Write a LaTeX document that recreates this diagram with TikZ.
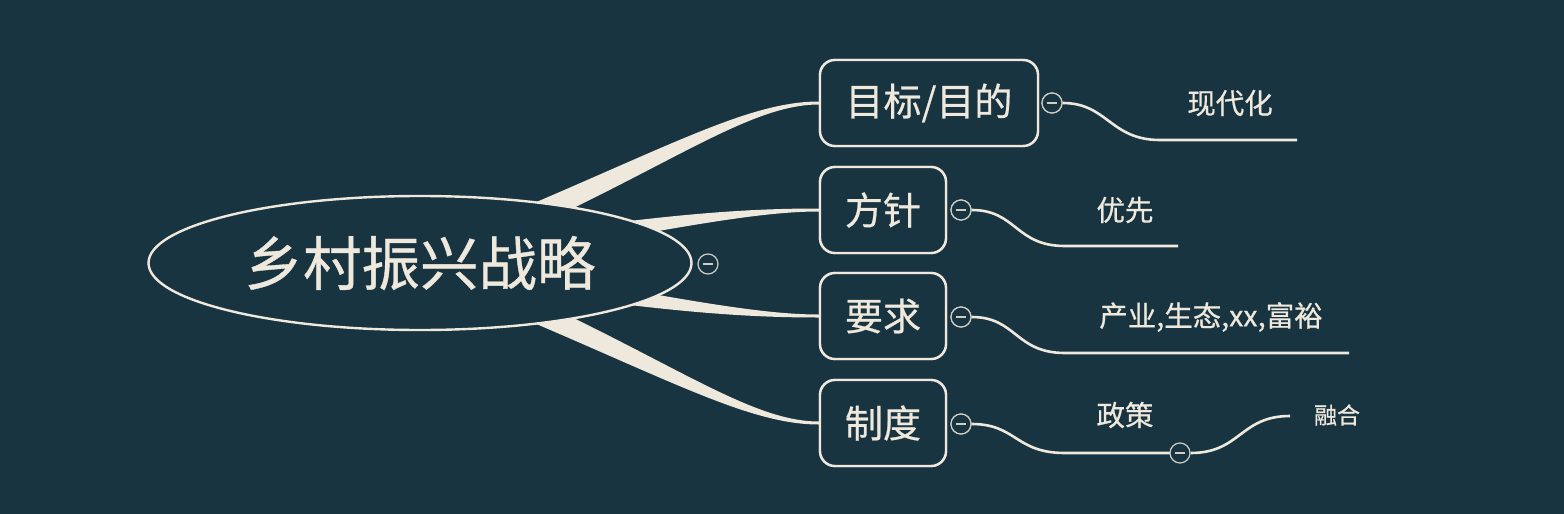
\documentclass[tikz,border=0pt]{standalone}
\usepackage{fontspec}
\newfontfamily\cjk[FakeBold=0.6]{Noto Sans CJK SC}
\usetikzlibrary{shapes.geometric,calc}
\definecolor{bg}{RGB}{25,52,65}
\definecolor{cream}{RGB}{238,233,220}
\begin{document}
\begin{tikzpicture}[x=1pt,y=-1pt,
  rootnode/.style={ellipse,draw=cream,line width=2.4pt,fill=bg,inner sep=0pt,
    minimum width=543pt,minimum height=134pt,text=cream,font=\cjk\fontsize{58.5}{60}\selectfont},
  topic/.style={rectangle,rounded corners=15pt,draw=cream,line width=2.4pt,fill=bg,
    minimum height=86pt,inner sep=0pt,text=cream,font=\cjk\fontsize{38}{40}\selectfont},
  subtext/.style={text=cream,inner sep=0pt,font=\cjk\fontsize{28.5}{30}\selectfont},
  toggle/.style={circle,draw=cream!85!bg,line width=1.2pt,fill=bg,minimum size=20pt,inner sep=0pt,
    path picture={\draw[cream!85!bg,line width=1.1pt]
      ([xshift=-5pt]path picture bounding box.center) -- ([xshift=5pt]path picture bounding box.center);}},
  subline/.style={draw=cream,line width=2.6pt},
  branch/.style={fill=cream}
]
\fill[bg] (0,0) rectangle (1564,514);
\useasboundingbox (0,0) rectangle (1564,514);

% nodes (positions)
\coordinate (rc) at (420,263);
\node[topic,minimum width=218pt] (b1) at (929,103) {目标/目的};
\node[topic,minimum width=126pt] (b2) at (883,210) {方针};
\node[topic,minimum width=126pt] (b3) at (883,316) {要求};
\node[topic,minimum width=126pt] (b4) at (883,423) {制度};

% tapered main branches (drawn under the root ellipse)
\fill[branch] ($(rc)+(0,-13)$) .. controls ($(rc)+(225,-102)$) and ($(b1.west)+(-80,-1.5)$) .. ($(b1.west)+(0,-1.5)$)
  -- ($(b1.west)+(0,1.5)$) .. controls ($(b1.west)+(-80,1.5)$) and ($(rc)+(225,-76)$) .. ($(rc)+(0,13)$) -- cycle;
\fill[branch] ($(rc)+(0,-11)$) .. controls ($(rc)+(230,-50)$) and ($(b2.west)+(-70,-1.5)$) .. ($(b2.west)+(0,-1.5)$)
  -- ($(b2.west)+(0,1.5)$) .. controls ($(b2.west)+(-70,1.5)$) and ($(rc)+(230,-30)$) .. ($(rc)+(0,11)$) -- cycle;
\fill[branch] ($(rc)+(0,-11)$) .. controls ($(rc)+(230,30)$) and ($(b3.west)+(-70,-1.5)$) .. ($(b3.west)+(0,-1.5)$)
  -- ($(b3.west)+(0,1.5)$) .. controls ($(b3.west)+(-70,1.5)$) and ($(rc)+(230,50)$) .. ($(rc)+(0,11)$) -- cycle;
\fill[branch] ($(rc)+(0,-13)$) .. controls ($(rc)+(225,76)$) and ($(b4.west)+(-80,-1.5)$) .. ($(b4.west)+(0,-1.5)$)
  -- ($(b4.west)+(0,1.5)$) .. controls ($(b4.west)+(-80,1.5)$) and ($(rc)+(225,102)$) .. ($(rc)+(0,13)$) -- cycle;

\node[rootnode] (root) at (rc) {乡村振兴战略};
\node[toggle] (c0) at (708,264) {};

% redraw boxes above branch ends
\node[topic,minimum width=218pt] at (b1) {目标/目的};
\node[topic,minimum width=126pt] at (b2) {方针};
\node[topic,minimum width=126pt] at (b3) {要求};
\node[topic,minimum width=126pt] at (b4) {制度};

% toggles
\node[toggle] (c1) at (1052,103) {};
\node[toggle] (c2) at (961,210) {};
\node[toggle] (c3) at (961,317) {};
\node[toggle] (c4) at (961,424) {};

% sub topics
\node[subtext] (t1) at (1230,103) {现代化};
\node[subtext] (t2) at (1125,210) {优先};
\node[subtext] (t3) at (1211,317) {产业,生态,xx,富裕};
\node[subtext] (t4) at (1125,415) {政策};
\node[subtext,font=\cjk\fontsize{23}{24}\selectfont] (t5) at (1337,415) {融合};

\coordinate (u1s) at (1160,140); \coordinate (u1e) at (1297,140);
\coordinate (u2s) at (1065,246); \coordinate (u2e) at (1178,246);
\coordinate (u3s) at (1065,353); \coordinate (u3e) at (1349,353);
\coordinate (u4s) at (1065,453);
\coordinate (u5e) at (1290,416);

\draw[subline] (c1.east) .. controls ($(c1.east)+(45,0)$) and ($(u1s)+(-50,0)$) .. (u1s) -- (u1e);
\draw[subline] (c2.east) .. controls ($(c2.east)+(45,0)$) and ($(u2s)+(-50,0)$) .. (u2s) -- (u2e);
\draw[subline] (c3.east) .. controls ($(c3.east)+(45,0)$) and ($(u3s)+(-50,0)$) .. (u3s) -- (u3e);
\draw[subline] (c4.east) .. controls ($(c4.east)+(45,0)$) and ($(u4s)+(-50,0)$) .. (u4s) -- (1170,453);
\node[toggle] (c5) at (1180,453) {};
\draw[subline] (c5.east) .. controls ($(c5.east)+(50,0)$) and ($(u5e)+(-50,0)$) .. (u5e);

% redraw toggles over line starts
\node[toggle] at (c1) {};
\node[toggle] at (c2) {};
\node[toggle] at (c3) {};
\node[toggle] at (c4) {};
\end{tikzpicture}
\end{document}
